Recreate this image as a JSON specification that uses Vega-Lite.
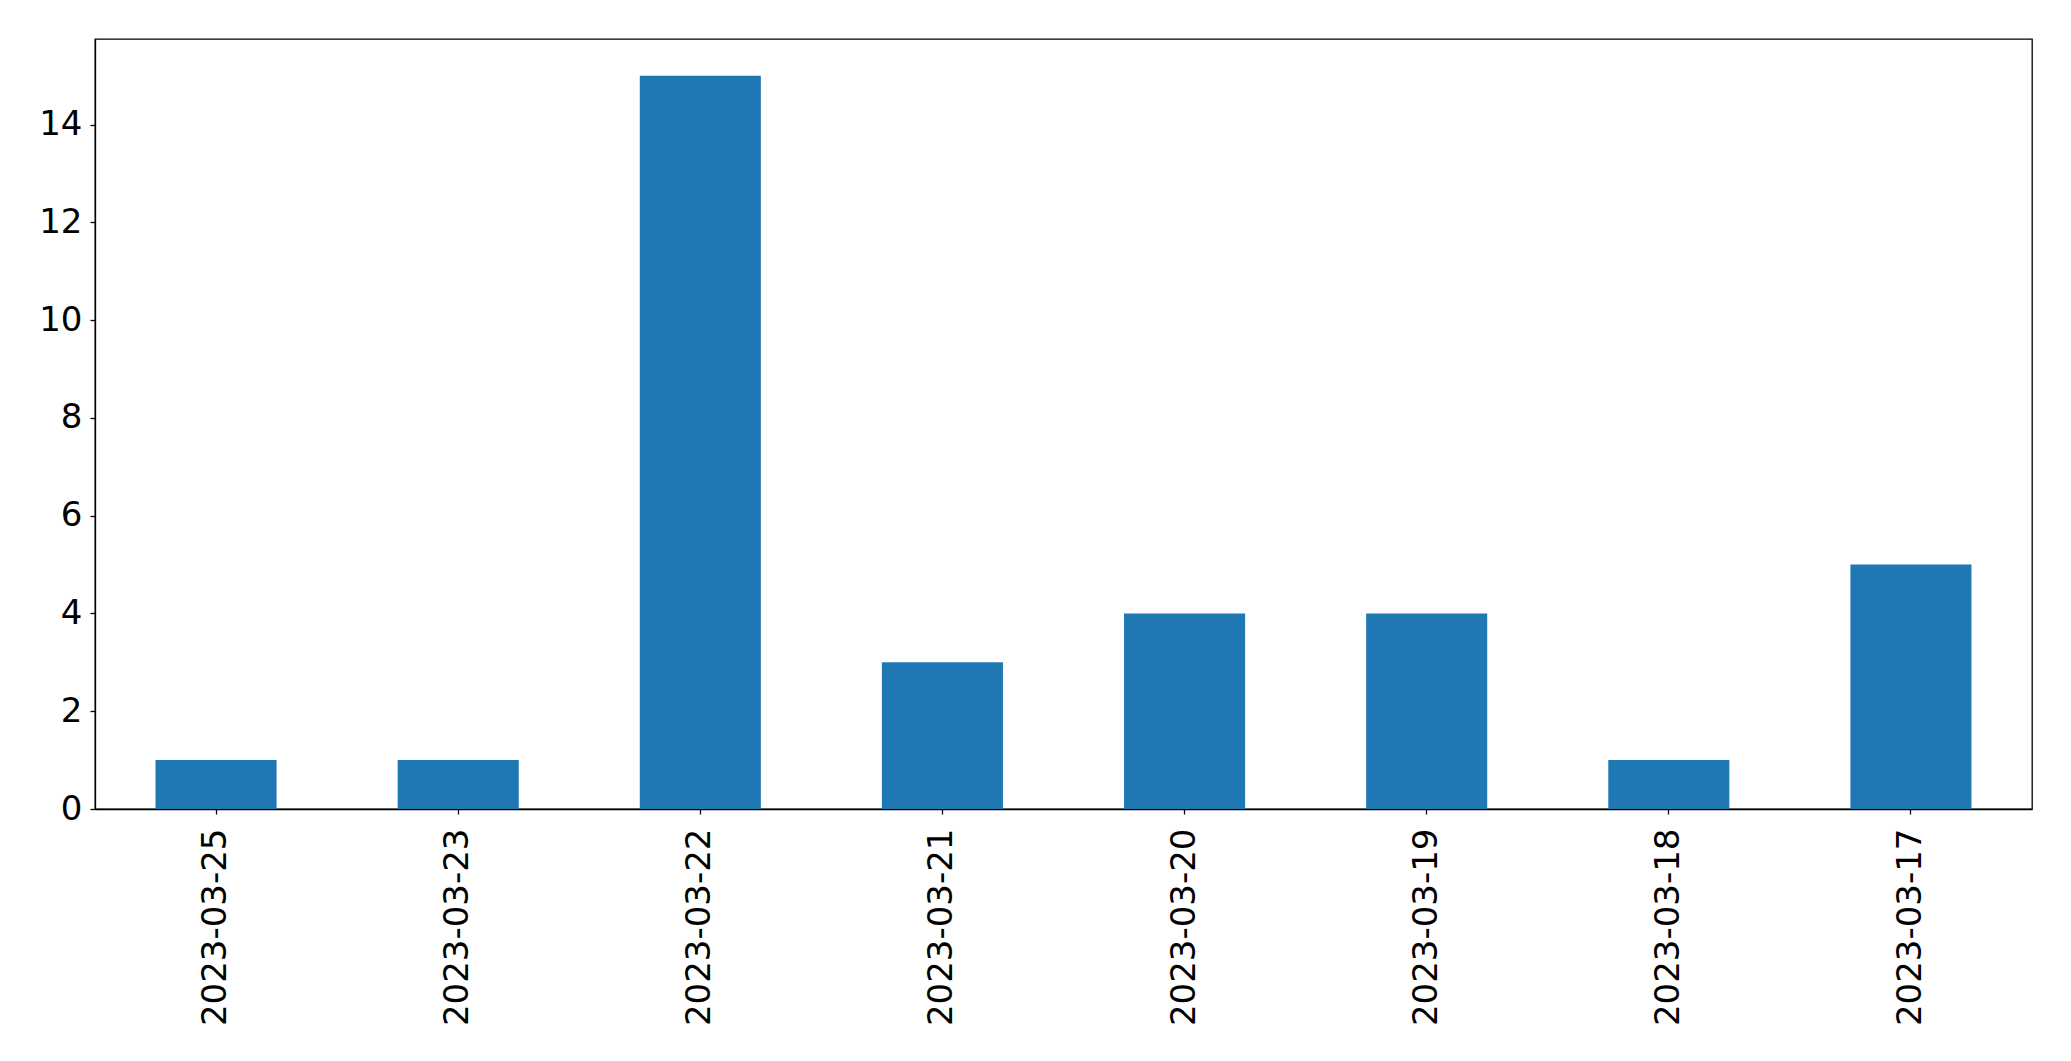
{
  "$schema": "https://vega.github.io/schema/vega-lite/v6.json",
  "autosize": "none",
  "width": 1937,
  "height": 770,
  "padding": {"left": 95, "top": 39, "right": 39, "bottom": 252},
  "background": "white",
  "config": {
    "font": "DejaVu Sans",
    "view": {"stroke": "black", "strokeWidth": 1.3},
    "axis": {
      "labelFont": "DejaVu Sans",
      "labelFontSize": 34,
      "labelColor": "black",
      "labelLimit": 0,
      "tickColor": "black",
      "domainColor": "black",
      "tickSize": 5,
      "tickWidth": 1.3,
      "domainWidth": 1.3,
      "grid": false,
      "title": null
    }
  },
  "data": {
    "values": [
      {"date": "2023-03-25", "count": 1},
      {"date": "2023-03-23", "count": 1},
      {"date": "2023-03-22", "count": 15},
      {"date": "2023-03-21", "count": 3},
      {"date": "2023-03-20", "count": 4},
      {"date": "2023-03-19", "count": 4},
      {"date": "2023-03-18", "count": 1},
      {"date": "2023-03-17", "count": 5}
    ]
  },
  "mark": {"type": "bar", "color": "#1f77b4"},
  "encoding": {
    "x": {
      "field": "date",
      "type": "nominal",
      "sort": null,
      "scale": {"paddingInner": 0.5, "paddingOuter": 0.25},
      "axis": {"labelAngle": -90, "labelPadding": 14, "labelBaseline": "middle", "labelAlign": "right"}
    },
    "y": {
      "field": "count",
      "type": "quantitative",
      "scale": {"domain": [0, 15.75], "nice": false},
      "axis": {"values": [0, 2, 4, 6, 8, 10, 12, 14], "labelPadding": 8}
    }
  }
}
